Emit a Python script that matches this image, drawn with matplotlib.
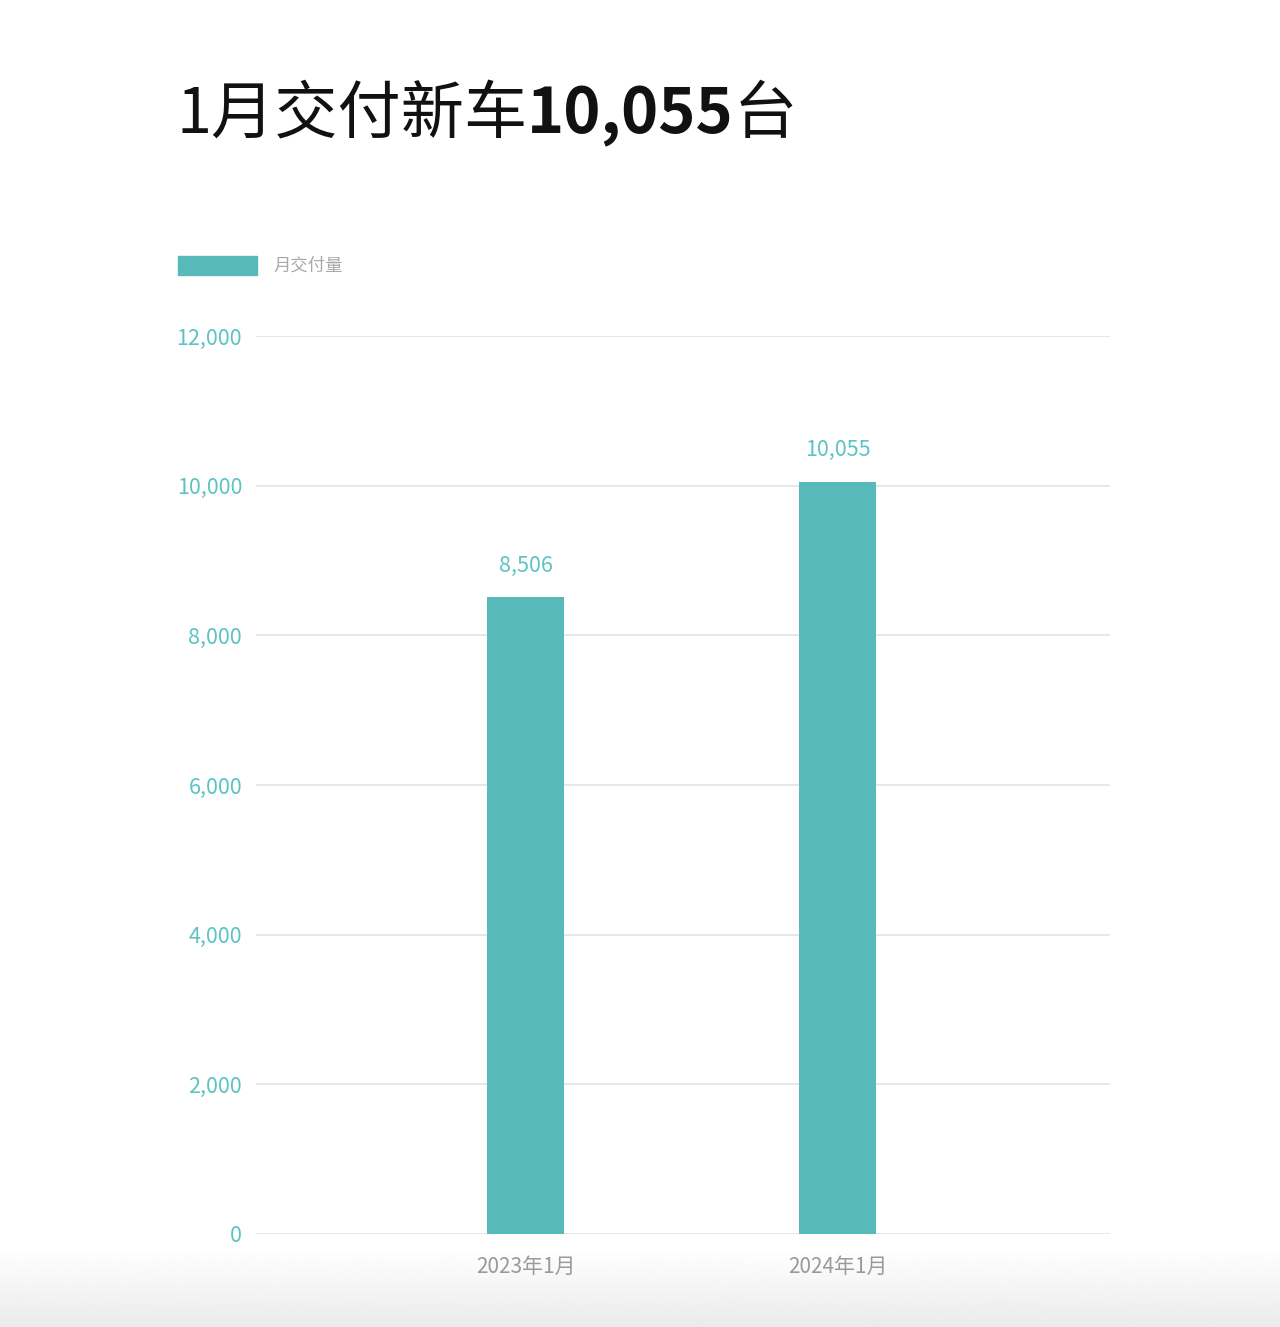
import numpy as np
import matplotlib
matplotlib.use("Agg")
import matplotlib.pyplot as plt
from matplotlib.patches import Rectangle

plt.rcParams['font.family'] = ['Noto Sans CJK SC', 'DejaVu Sans']

categories = ["2023年1月", "2024年1月"]
deliveries = [8506, 10055]
value_labels = ["8,506", "10,055"]
yticks = [0, 2000, 4000, 6000, 8000, 10000, 12000]
ytick_labels = ["0", "2,000", "4,000", "6,000", "8,000", "10,000", "12,000"]
legend_label = "月交付量"
title_parts = ["1月交付新车", "10,055", "台"]

bar_color = "#57b9b9"
tick_teal = "#5cc3c3"
grid_gray = "#e3e3e3"
label_gray = "#9a9a9a"

W, H = 1280, 1327
fig = plt.figure(figsize=(W / 100, H / 100), dpi=100)
fig.patch.set_facecolor("white")

# soft gray fade at the very bottom (screenshot look)
bg = fig.add_axes([0, 0, 1, 80 / H])
grad = np.linspace(0.92, 1.0, 100).reshape(-1, 1)
bg.imshow(grad, aspect="auto", cmap="gray", vmin=0, vmax=1, extent=[0, 1, 0, 1], origin="lower")
bg.axis("off")

ax = fig.add_axes([256 / W, 1 - 1234 / H, (1110 - 256) / W, (1234 - 336) / H])
ax.patch.set_alpha(0)
x = np.arange(len(categories))
bars = ax.bar(x, deliveries, width=0.247, color=bar_color, zorder=3)

ax.set_ylim(0, 12000)
ax.set_xlim(-0.865, 1.872)
ax.set_yticks(yticks)
ax.set_yticklabels(ytick_labels)
ax.set_xticks(x)
ax.set_xticklabels(categories)
ax.grid(axis="y", color=grid_gray, linewidth=1.2, zorder=0)
for s in ax.spines.values():
    s.set_visible(False)
ax.tick_params(axis="y", length=0, pad=10, labelsize=15.5, labelcolor=tick_teal)
ax.tick_params(axis="x", length=0, pad=16, labelsize=15, labelcolor=label_gray)

for b, lab in zip(bars, value_labels):
    ax.annotate(lab, (b.get_x() + b.get_width() / 2, b.get_height()),
                xytext=(0, 15), textcoords="offset points", ha="center", va="bottom",
                fontsize=15.5, color=tick_teal)

# legend drawn by hand like the original
fig.patches.append(Rectangle((178 / W, 1 - 275 / H), 79 / W, 19 / H,
                             transform=fig.transFigure, color=bar_color))
fig.text(273 / W, 1 - 266 / H, legend_label, fontsize=12.5, color="#a8a8a8", va="center")

# title in three runs: light / bold / light
renderer = fig.canvas.get_renderer()
tx = 176 / W
ty = 1 - 133 / H
weights = ["light", "bold", "light"]
for part, w in zip(title_parts, weights):
    t = fig.text(tx, ty, part, fontsize=45.5, fontweight=w, color="#111111", va="baseline")
    bb = t.get_window_extent(renderer)
    tx = bb.x1 / W

fig.savefig("out.png", dpi=100, facecolor="white")
